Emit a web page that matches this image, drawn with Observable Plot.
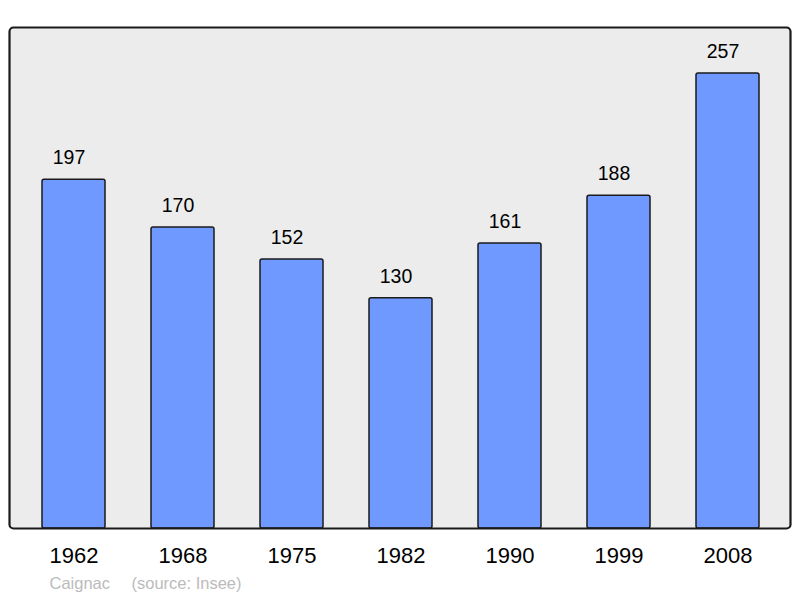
<!DOCTYPE html>
<html>
<head>
<meta charset="utf-8">
<script src="https://cdn.jsdelivr.net/npm/d3@7"></script>
<script src="https://cdn.jsdelivr.net/npm/@observablehq/plot@0.6"></script>
<style>
  html, body { margin: 0; padding: 0; background: #fff; }
  svg { display: block; }
</style>
</head>
<body>
<div id="chart"></div>
<script>
const years = ["1962", "1968", "1975", "1982", "1990", "1999", "2008"];
const population = [197, 170, 152, 130, 161, 188, 257];
const commune = "Caignac";
const source = "(source: Insee)";

const data = years.map((y, i) => ({year: y, value: population[i]}));

const chart = Plot.plot({
  width: 800,
  height: 598,
  marginLeft: 9,
  marginRight: 10,
  marginTop: 27,
  marginBottom: 70,
  style: {fontFamily: "'Liberation Sans', Arial, sans-serif", background: "#fff"},
  x: {domain: years, range: [17.6, 783.6], paddingInner: 0.424, paddingOuter: 0.212, label: null},
  y: {domain: [0, 283], axis: null},
  marks: [
    Plot.frame({fill: "#ececec", stroke: "none", rx: 4}),
    Plot.barY(data, {x: "year", y: "value", fill: "#7099ff", stroke: "#1a1a1a", strokeWidth: 1.5, rx: 2}),
    Plot.text(data, {x: "year", y: "value", text: d => String(d.value), dy: -22, dx: -5, fontSize: 19.5, fill: "#000"}),
    Plot.frame({stroke: "#1a1a1a", strokeWidth: 2.2, rx: 4}),
    Plot.axisX({tickSize: 0, tickPadding: 19, fontSize: 22, fill: "#000"}),
    Plot.text([commune], {frameAnchor: "bottom-left", dx: 40, dy: 60, text: d => d, textAnchor: "start", fontSize: 16.5, fill: "#bbbbbb"}),
    Plot.text([source], {frameAnchor: "bottom-left", dx: 122, dy: 60, text: d => d, textAnchor: "start", fontSize: 16.5, fill: "#bbbbbb"})
  ]
});
document.getElementById("chart").appendChild(chart);
</script>
</body>
</html>
